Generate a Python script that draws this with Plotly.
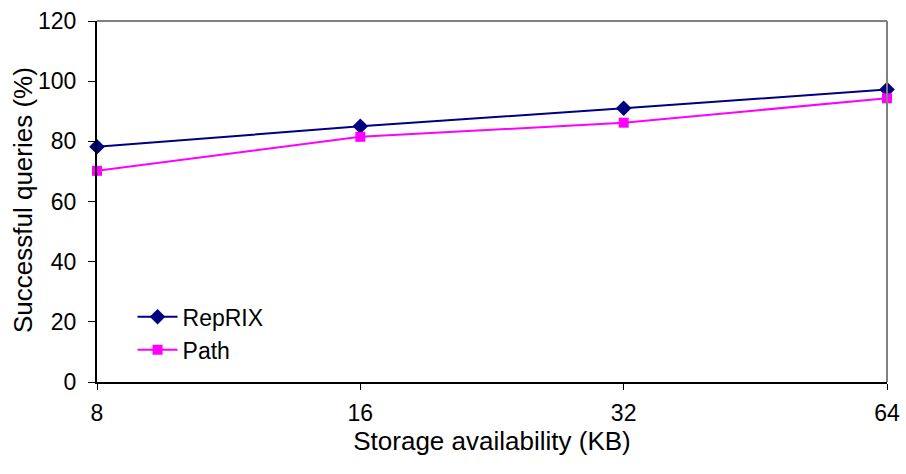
import plotly.graph_objects as go

categories = ["8", "16", "32", "64"]
reprix = [78.2, 85.0, 91.0, 97.2]
path = [70.2, 81.5, 86.2, 94.3]
y_ticks = [0, 20, 40, 60, 80, 100, 120]

FONT = "Liberation Sans, Arial, sans-serif"

fig = go.Figure()
fig.add_trace(go.Scatter(
    x=categories, y=reprix, name="RepRIX", mode="lines+markers",
    line=dict(color="#000080", width=2),
    marker=dict(symbol="diamond", size=12, color="#000080"),
    cliponaxis=False,
))
fig.add_trace(go.Scatter(
    x=categories, y=path, name="Path", mode="lines+markers",
    line=dict(color="#FF00FF", width=2),
    marker=dict(symbol="square", size=10, color="#FF00FF"),
    cliponaxis=False,
))

# grey top/right frame
fig.add_shape(type="line", xref="x domain", yref="y domain", x0=0, x1=1, y0=1, y1=1,
              line=dict(color="#808080", width=2))
fig.add_shape(type="line", xref="x domain", yref="y domain", x0=1, x1=1, y0=0, y1=1,
              line=dict(color="#808080", width=2))

# y-axis title
fig.add_annotation(text="Successful queries (%)", xref="paper", yref="paper",
                   x=(23 - 97) / 790, y=(382 - 200) / 361, xanchor="center", yanchor="middle",
                   textangle=-90, showarrow=False, font=dict(size=26))

fig.update_layout(
    width=906, height=474,
    margin=dict(l=97, r=19, t=21, b=92, autoexpand=False),
    paper_bgcolor="white", plot_bgcolor="white",
    font=dict(family=FONT, size=23, color="black"),
    showlegend=True,
    legend=dict(x=0.045, y=0.24, xanchor="left", yanchor="top",
                bgcolor="rgba(0,0,0,0)", font=dict(size=23),
                tracegroupgap=0, itemwidth=40),
)
fig.update_xaxes(
    type="category", range=[0, 3], automargin=False,
    showgrid=False, zeroline=False,
    showline=True, linecolor="black", linewidth=2,
    ticks="outside", ticklen=6, tickcolor="black", tickwidth=1,
    tickfont=dict(size=23), ticklabelstandoff=3,
    title=dict(text="Storage availability (KB)", font=dict(size=26), standoff=6),
)
fig.update_yaxes(
    range=[0, 120], tickvals=y_ticks, automargin=False,
    showgrid=False, zeroline=False,
    showline=True, linecolor="black", linewidth=2,
    ticks="outside", ticklen=7, tickcolor="black", tickwidth=1,
    tickfont=dict(size=23), ticklabelstandoff=7,
)

fig.write_html("out.html")
